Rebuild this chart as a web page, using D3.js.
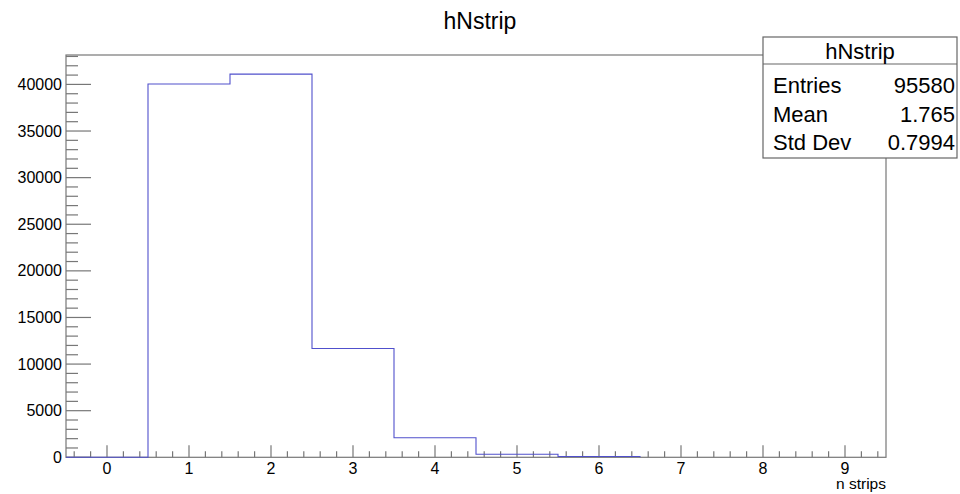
<!DOCTYPE html>
<html>
<head>
<meta charset="utf-8">
<script src="https://cdn.jsdelivr.net/npm/d3@7"></script>
<style>
  body { margin: 0; background: #fff; }
  svg { display: block; font-family: "Liberation Sans", Arial, sans-serif; }
</style>
</head>
<body>
<div id="canvas"></div>
<script>
// histogram hNstrip, one bin per strip count
var binCenters = [0, 1, 2, 3, 4, 5, 6, 7, 8, 9];
var binCounts = [0, 40050, 41100, 11670, 2100, 320, 80, 0, 0, 0];
var xTicks = [0, 1, 2, 3, 4, 5, 6, 7, 8, 9];
var yTicks = [0, 5000, 10000, 15000, 20000, 25000, 30000, 35000, 40000];
var statLabels = ["Entries", "Mean", "Std Dev"];
var statValues = ["95580", "1.765", "0.7994"];

var w = 960;
var h = 494;
var frame = { left: 66, right: 886, top: 55, bottom: 457.3 };

var svg = d3.select("#canvas")
    .append("svg")
    .attr("width", w)
    .attr("height", h);

var x = d3.scaleLinear().domain([-0.5, 9.5]).range([frame.left, frame.right]);
var yMax = d3.max(binCounts) * 1.05;
var y = d3.scaleLinear().domain([0, yMax]).range([frame.bottom, frame.top]);

// title
svg.append("text")
    .attr("x", 480)
    .attr("y", 29)
    .attr("text-anchor", "middle")
    .style("font-size", "23px")
    .text("hNstrip");

// frame
svg.append("rect")
    .attr("x", frame.left)
    .attr("y", frame.top)
    .attr("width", frame.right - frame.left)
    .attr("height", frame.bottom - frame.top)
    .attr("fill", "none")
    .attr("stroke", "#777")
    .attr("stroke-width", 1.2);

// y axis: major every 5000, minor every 1000, ticks pointing inside
var yMinor = d3.range(0, yMax, 1000);
svg.append("g")
    .selectAll("line")
    .data(yMinor)
    .join("line")
    .attr("x1", frame.left)
    .attr("x2", function (d) { return frame.left + (d % 5000 === 0 ? 25 : 12); })
    .attr("y1", function (d) { return y(d); })
    .attr("y2", function (d) { return y(d); })
    .attr("stroke", "#777")
    .attr("stroke-width", 1.2);

svg.append("g")
    .selectAll("text")
    .data(yTicks)
    .join("text")
    .attr("x", frame.left - 4)
    .attr("y", function (d) { return y(d) + 5.5; })
    .attr("text-anchor", "end")
    .style("font-size", "16px")
    .text(function (d) { return d; });

// x axis: major at integers, minor every 0.2
var xMinor = d3.range(-0.4, 9.5, 0.2);
svg.append("g")
    .selectAll("line")
    .data(xMinor)
    .join("line")
    .attr("x1", function (d) { return x(d); })
    .attr("x2", function (d) { return x(d); })
    .attr("y1", frame.bottom)
    .attr("y2", function (d) {
        var major = Math.abs(d - Math.round(d)) < 0.01;
        return frame.bottom - (major ? 12 : 6);
    })
    .attr("stroke", "#777")
    .attr("stroke-width", 1.2);

svg.append("g")
    .selectAll("text")
    .data(xTicks)
    .join("text")
    .attr("x", function (d) { return x(d); })
    .attr("y", 473.5)
    .attr("text-anchor", "middle")
    .style("font-size", "16px")
    .text(function (d) { return d; });

svg.append("text")
    .attr("x", frame.right)
    .attr("y", 489)
    .attr("text-anchor", "end")
    .style("font-size", "15.5px")
    .text("n strips");

// histogram outline (stop after last filled bin)
var lastBin = d3.max(binCounts.map(function (c, i) { return c > 0 ? i : -1; }));
var pts = [[x(binCenters[0] - 0.5), y(0)]];
for (var i = 0; i <= lastBin; i++) {
    pts.push([x(binCenters[i] - 0.5), y(binCounts[i])]);
    pts.push([x(binCenters[i] + 0.5), y(binCounts[i])]);
}
pts.push([x(binCenters[lastBin] + 0.5), y(0)]);

svg.append("path")
    .attr("d", d3.line()(pts))
    .attr("fill", "none")
    .attr("stroke", "#5050cc")
    .attr("stroke-width", 1.1);

// stats box
var box = { x: 763, y: 37, w: 194, h: 121 };
var stats = svg.append("g");
stats.append("rect")
    .attr("x", box.x)
    .attr("y", box.y)
    .attr("width", box.w)
    .attr("height", box.h)
    .attr("fill", "#fff")
    .attr("stroke", "#666")
    .attr("stroke-width", 1.2);
stats.append("line")
    .attr("x1", box.x)
    .attr("x2", box.x + box.w)
    .attr("y1", 64)
    .attr("y2", 64)
    .attr("stroke", "#666")
    .attr("stroke-width", 1.2);
stats.append("text")
    .attr("x", box.x + box.w / 2)
    .attr("y", 58.5)
    .attr("text-anchor", "middle")
    .style("font-size", "22px")
    .text("hNstrip");
stats.selectAll(".lab")
    .data(statLabels)
    .join("text")
    .attr("class", "lab")
    .attr("x", box.x + 10)
    .attr("y", function (d, i) { return 93 + i * 28.5; })
    .style("font-size", "22px")
    .text(function (d) { return d; });
stats.selectAll(".val")
    .data(statValues)
    .join("text")
    .attr("class", "val")
    .attr("x", box.x + box.w - 2)
    .attr("y", function (d, i) { return 93 + i * 28.5; })
    .attr("text-anchor", "end")
    .style("font-size", "22px")
    .text(function (d) { return d; });
</script>
</body>
</html>
